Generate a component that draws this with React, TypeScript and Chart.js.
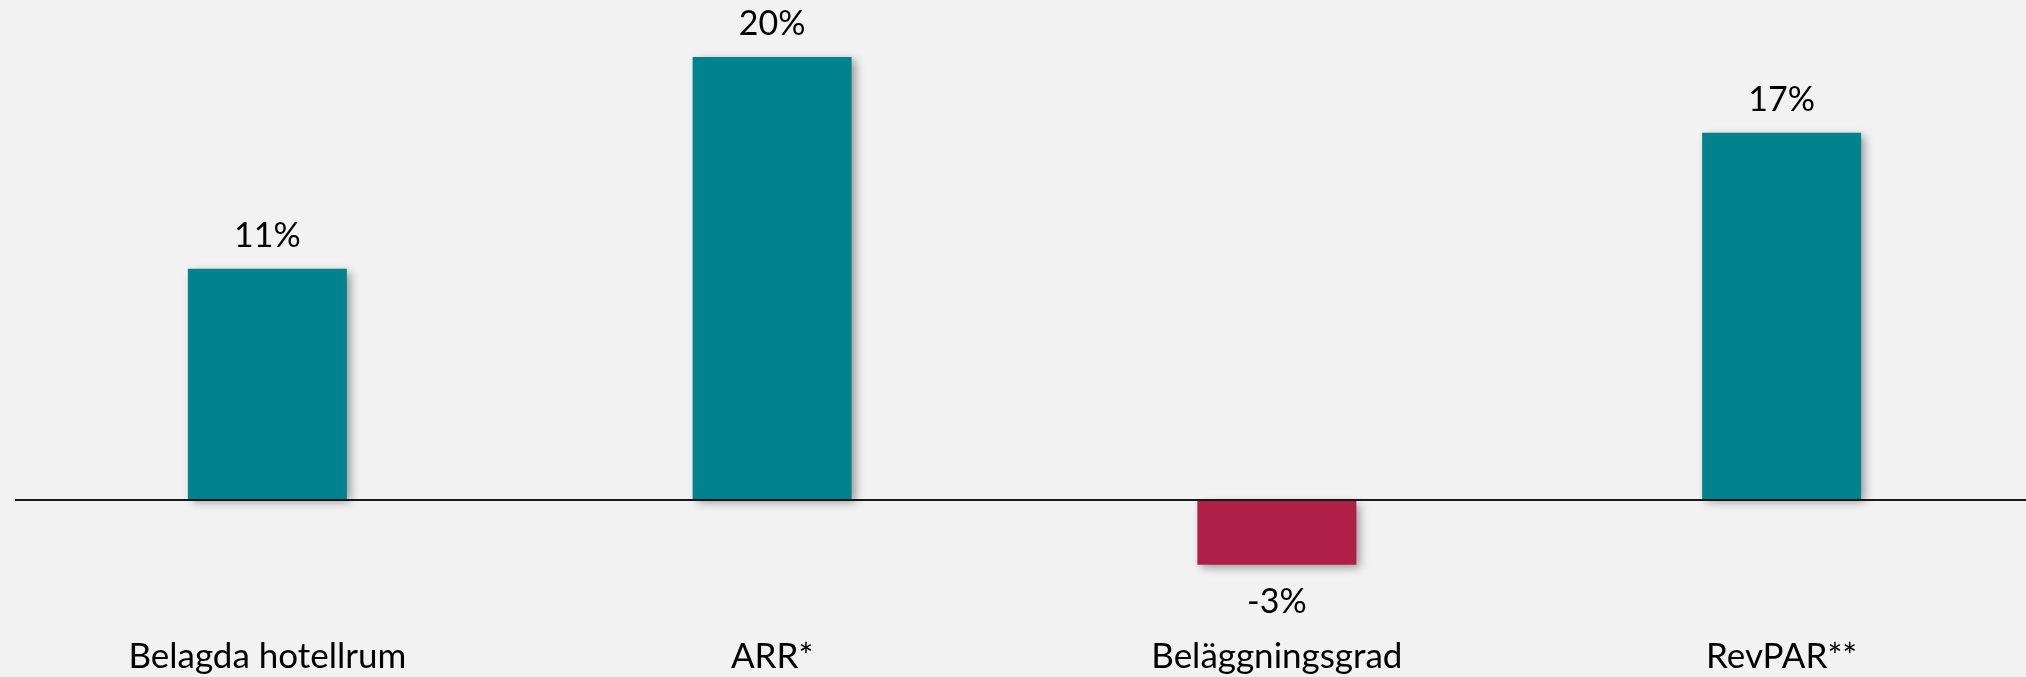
import React, { useEffect, useRef } from "react";
import { Chart, registerables } from "chart.js";

Chart.register(...registerables);

const categories = ["Belagda hotellrum", "ARR*", "Beläggningsgrad", "RevPAR**"];
const values = [10.7, 20.5, -3.0, 17.0];
const valueLabels = ["11%", "20%", "-3%", "17%"];
const barColors = ["#00838F", "#00838F", "#AF1F46", "#00838F"];

const FONT = "Lato, 'Noto Sans', sans-serif";

const labelPlugin = {
  id: "barExtras",
  beforeDatasetsDraw(chart: any) {
    const ctx = chart.ctx;
    ctx.save();
    ctx.shadowColor = "rgba(0,0,0,0.38)";
    ctx.shadowBlur = 9;
    ctx.shadowOffsetX = 4;
    ctx.shadowOffsetY = 3;
  },
  afterDatasetsDraw(chart: any) {
    const ctx = chart.ctx;
    ctx.restore();
    const meta = chart.getDatasetMeta(0);
    ctx.save();
    ctx.fillStyle = "#000";
    ctx.font = `34px ${FONT}`;
    ctx.textAlign = "center";
    ctx.textBaseline = "alphabetic";
    meta.data.forEach((bar: any, i: number) => {
      const v = values[i];
      const text = valueLabels[i];
      if (v >= 0) {
        ctx.fillText(text, bar.x, bar.y - 22);
      } else {
        ctx.fillText(text, bar.x, bar.y + 48);
      }
    });
    ctx.restore();
  },
};

export default function App() {
  const ref = useRef<HTMLCanvasElement | null>(null);
  useEffect(() => {
    if (!ref.current) return;
    const chart = new Chart(ref.current, {
      type: "bar",
      data: {
        labels: categories,
        datasets: [
          {
            data: values,
            backgroundColor: barColors,
            borderWidth: 0,
            barPercentage: 1,
            categoryPercentage: 0.315,
          },
        ],
      },
      options: {
        responsive: false,
        animation: false,
        layout: { padding: { left: 15, right: 6, top: 3, bottom: 0 } },
        plugins: { legend: { display: false }, tooltip: { enabled: false } },
        scales: {
          x: {
            grid: { display: false, drawTicks: false },
            border: { display: false },
            ticks: {
              color: "#000",
              font: { family: FONT, size: 35 },
              padding: 28,
              maxRotation: 0,
              autoSkip: false,
            },
            afterFit: (s: any) => {
              s.height = 69;
            },
          },
          y: {
            min: -5,
            max: 23,
            z: 1,
            ticks: { display: false, stepSize: 1 },
            border: { display: false },
            grid: {
              drawTicks: false,
              color: (c: any) => (c.tick && c.tick.value === 0 ? "#1a1a1a" : "rgba(0,0,0,0)"),
              lineWidth: (c: any) => (c.tick && c.tick.value === 0 ? 2 : 0),
            },
            afterFit: (s: any) => {
              s.width = 0;
            },
          },
        },
      },
      plugins: [labelPlugin],
    });
    return () => chart.destroy();
  }, []);
  return (
    <div
      style={{
        position: "fixed",
        left: 0,
        top: 0,
        width: 2026,
        height: 677,
        overflow: "hidden",
        background: "#F2F2F2",
      }}
    >
      <canvas ref={ref} width={2040} height={677} style={{ display: "block" }} />
    </div>
  );
}
